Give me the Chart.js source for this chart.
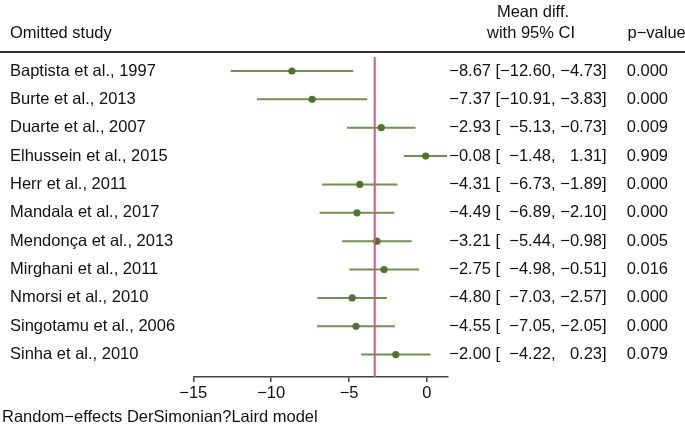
<!DOCTYPE html>
<html><head><meta charset="utf-8">
<script src="https://cdn.jsdelivr.net/npm/chart.js@4/dist/chart.umd.min.js"></script>
<style>html,body{margin:0;padding:0;background:#fff}#wrap{width:685px;height:432px}</style>
</head><body><div id="wrap"><canvas id="c" width="685" height="432"></canvas></div>
<script>
const studies = ["Baptista et al., 1997","Burte et al., 2013","Duarte et al., 2007","Elhussein et al., 2015","Herr et al., 2011","Mandala et al., 2017","Mendonça et al., 2013","Mirghani et al., 2011","Nmorsi et al., 2010","Singotamu et al., 2006","Sinha et al., 2010"];
const estimates = [-8.67,-7.37,-2.93,-0.08,-4.31,-4.49,-3.21,-2.75,-4.80,-4.55,-2.00];
const lowerCI = [-12.60,-10.91,-5.13,-1.48,-6.73,-6.89,-5.44,-4.98,-7.03,-7.05,-4.22];
const upperCI = [-4.73,-3.83,-0.73,1.31,-1.89,-2.10,-0.98,-0.51,-2.57,-2.05,0.23];
const pValues = ["0.000","0.000","0.009","0.909","0.000","0.000","0.005","0.016","0.000","0.000","0.079"];
const overallEffect = -3.35;
const xTicks = [-15,-10,-5,0];
const headerLeft = "Omitted study";
const headerMid1 = "Mean diff.";
const headerMid2 = "with 95% CI";
const headerRight = "p\u2212value";
const footNote = "Random\u2212effects DerSimonian?Laird model";

const FONT = '"Liberation Sans", Arial, Helvetica, sans-serif';
const FSIZE = 16.5;
const fmt = v => v.toFixed(2).replace('-', '\u2212');

const ciSets = studies.map((s, i) => ({
  type: 'scatter',
  data: [{x: lowerCI[i], y: i + 1}, {x: upperCI[i], y: i + 1}],
  showLine: true,
  borderColor: '#6f9150',
  borderWidth: 2,
  pointRadius: 0,
  pointHoverRadius: 0,
  order: 2
}));
const pointSet = {
  type: 'scatter',
  data: estimates.map((v, i) => ({x: v, y: i + 1})),
  pointRadius: 3.6,
  pointBackgroundColor: '#52722f',
  pointBorderWidth: 0,
  order: 0
};

const textPlugin = {
  id: 'forestText',
  afterDatasetsDraw(chart) {
    const ctx = chart.ctx, xs = chart.scales.x, ca = chart.chartArea;
    ctx.save();
    const rx = xs.getPixelForValue(overallEffect);
    ctx.strokeStyle = '#cc5a7e';
    ctx.lineWidth = 2;
    ctx.beginPath();
    ctx.moveTo(rx, ca.top + 5);
    ctx.lineTo(rx, ca.bottom);
    ctx.stroke();
    ctx.restore();
  },
  afterDraw(chart) {
    const ctx = chart.ctx, ys = chart.scales.y, ca = chart.chartArea;
    ctx.save();
    ctx.fillStyle = '#111';
    ctx.font = FSIZE + 'px ' + FONT;
    ctx.textBaseline = 'middle';
    ctx.textAlign = 'left';
    ctx.fillText(headerLeft, 10, 33);
    ctx.textAlign = 'center';
    ctx.fillText(headerMid1, 533, 12);
    ctx.fillText(headerMid2, 531, 33);
    ctx.textAlign = 'left';
    ctx.fillText(headerRight, 627.5, 33);
    ctx.strokeStyle = '#333';
    ctx.lineWidth = 2;
    ctx.beginPath();
    ctx.moveTo(0, ca.top);
    ctx.lineTo(685, ca.top);
    ctx.stroke();
    studies.forEach((s, i) => {
      const y = ys.getPixelForValue(i + 1);
      ctx.textAlign = 'left';
      ctx.fillText(s, 10, y);
      ctx.textAlign = 'right';
      ctx.fillText(fmt(estimates[i]), 491, y);
      ctx.fillText(fmt(lowerCI[i]), 551, y);
      ctx.fillText(fmt(upperCI[i]), 602, y);
      ctx.textAlign = 'left';
      ctx.fillText('[', 495.5, y);
      ctx.fillText(',', 551, y);
      ctx.fillText(']', 602, y);
      ctx.fillText(pValues[i], 626.7, y);
    });
    ctx.textAlign = 'left';
    ctx.fillText(footNote, 2, 417);
    ctx.restore();
  }
};

new Chart(document.getElementById('c'), {
  type: 'scatter',
  data: { datasets: [pointSet, ...ciSets] },
  options: {
    responsive: false,
    devicePixelRatio: 1,
    animation: false,
    events: [],
    layout: { padding: { left: 193.3, right: 237.7, top: 52, bottom: 25 } },
    plugins: { legend: { display: false }, tooltip: { enabled: false } },
    scales: {
      x: {
        type: 'linear', min: -15, max: 1.31,
        afterBuildTicks: s => { s.ticks = xTicks.map(v => ({value: v})); },
        afterFit: s => { s.height = 30; },
        border: { display: true, color: '#444', width: 1.5 },
        grid: { display: true, drawOnChartArea: false, drawTicks: true, tickLength: 5, color: '#444', lineWidth: 1.5 },
        ticks: { color: '#111', padding: 2, font: { size: FSIZE, family: FONT }, maxRotation: 0,
                 callback: v => String(v).replace('-', '\u2212') }
      },
      y: {
        type: 'linear', reverse: true, min: 0.33, max: 11.79, display: false
      }
    }
  },
  plugins: [textPlugin]
});
</script></body></html>
